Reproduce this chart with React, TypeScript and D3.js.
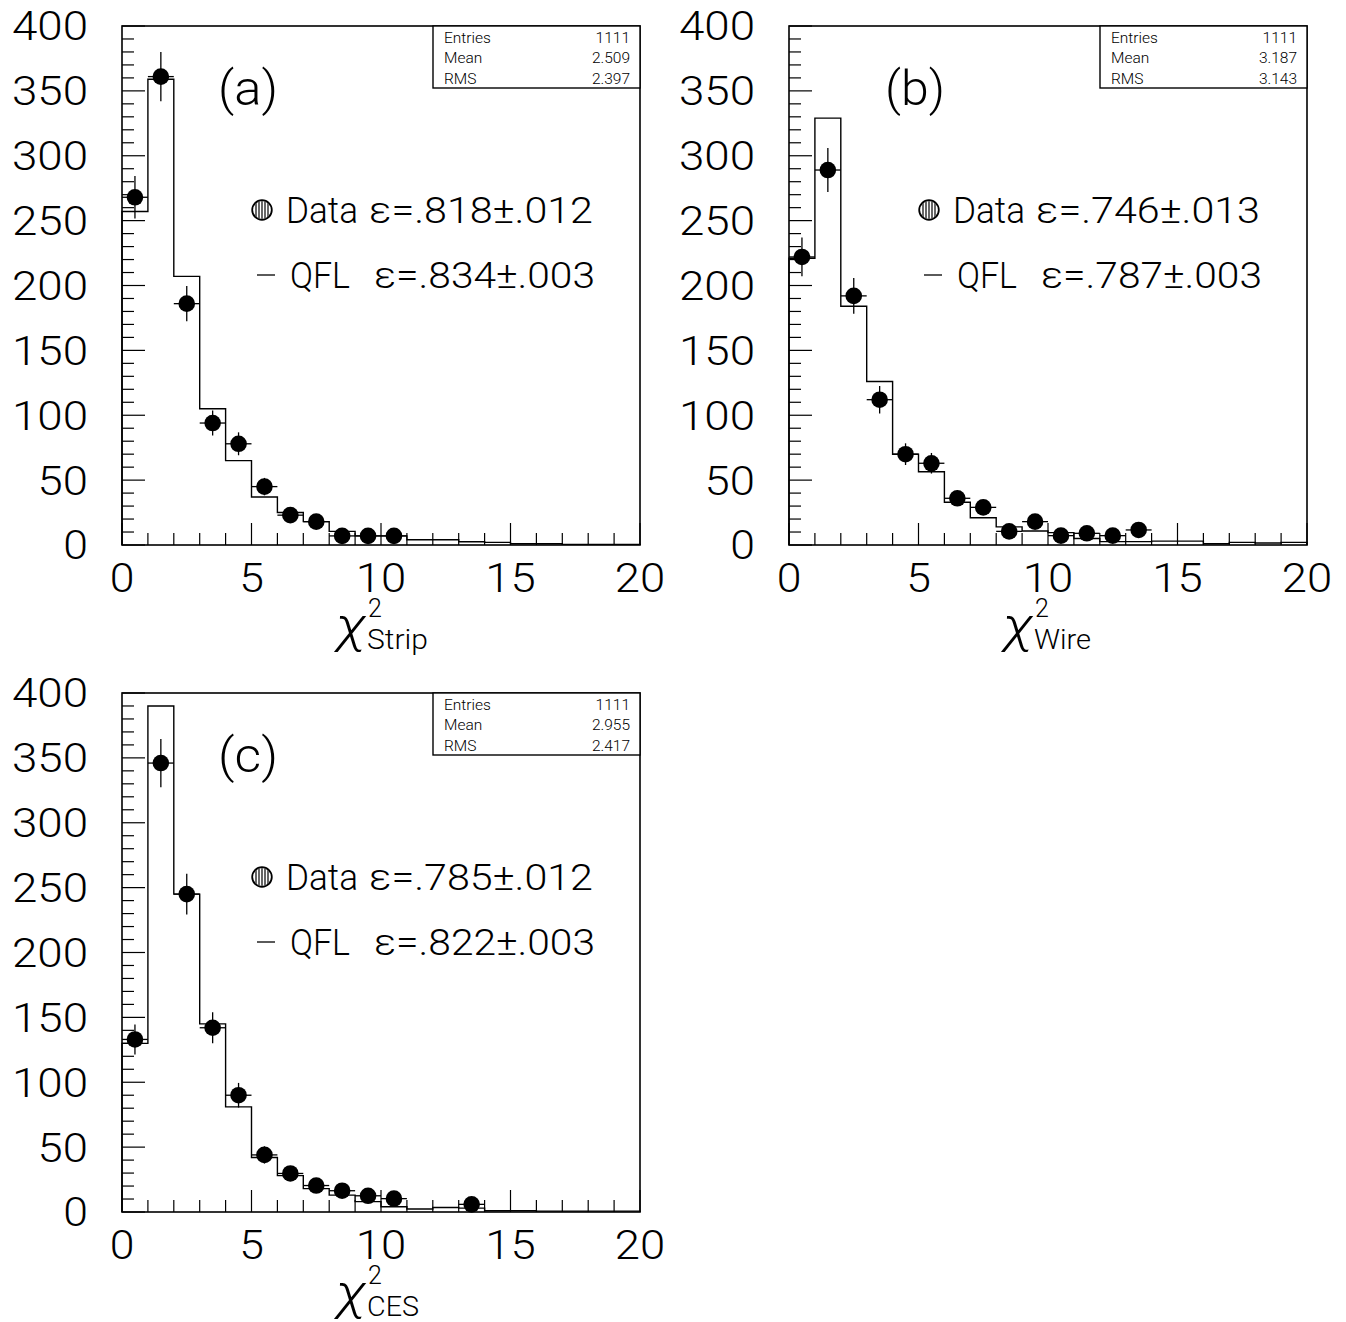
import React from 'react';
import * as d3 from 'd3';

// bin contents, 20 bins of width 1 from 0 to 20
const binLow = d3.range(0, 20);

const stripData = [268, 361, 186, 94, 78, 45, 23, 18, 7, 7, 7, 0, 0, 0, 0, 0, 0, 0, 0, 0];
const stripQfl = [257, 359, 207, 105, 65, 37, 25, 18, 10.5, 7, 7, 4, 4, 2.5, 2, 1, 1, 0.5, 0.5, 0.5];

const wireData = [222, 289, 192, 112, 70, 63, 36, 29, 10.5, 18, 7.2, 9, 7.2, 11.6, 0, 0, 0, 0, 0, 0];
const wireQfl = [221, 329, 184, 126, 70, 56.5, 33, 21, 14, 10.8, 9.5, 5, 2.6, 2.6, 3, 3, 1, 2, 1.5, 2];

const cesData = [133, 346, 245, 142, 90, 44, 29.7, 20.4, 16.4, 12.5, 10.3, 0, 0, 5.9, 0, 0, 0, 0, 0, 0];
const cesQfl = [130, 390, 245, 145, 81, 42, 28, 18, 13, 8, 4, 2.3, 3.5, 3, 1, 1, 0.7, 0.7, 0.7, 0.7];

const yTicks = [0, 50, 100, 150, 200, 250, 300, 350, 400];
const xTicks = [0, 5, 10, 15, 20];

const W = 518;
const H = 519;
const FONT = "Roboto, 'DejaVu Sans', sans-serif";

// stretch thin glyphs to the wide look of the original lettering
const numLen = (s: string) => 25.7 * s.length - 1;

const Panel = ({ id, left, top, tag, sub, subLen, data, qfl, stats, effData, effQfl }) => {
  const x = d3.scaleLinear().domain([0, 20]).range([0, W]);
  const y = d3.scaleLinear().domain([0, 400]).range([H, 0]);

  const pts = [[0, 0], ...binLow.map((b, i) => [b, qfl[i]]), [20, qfl[19]], [20, 0]];
  const histPath = d3
    .line()
    .x(d => x(d[0]))
    .y(d => y(d[1]))
    .curve(d3.curveStepAfter)(pts);

  const minorY = d3.range(0, 401, 10);
  const minorX = d3.range(0, 21, 1);

  return (
    <g transform={`translate(${left},${top})`} fontFamily={FONT} fontWeight={300}>
      {/* ticks */}
      {minorY.map(v => (
        <line key={'yt' + v} x1={0} x2={v % 50 === 0 ? 23 : 12} y1={y(v)} y2={y(v)} stroke="#000" strokeWidth={1.2} />
      ))}
      {minorX.map(v => (
        <line key={'xt' + v} y1={H} y2={H - (v % 5 === 0 ? 22 : 12)} x1={x(v)} x2={x(v)} stroke="#000" strokeWidth={1.2} />
      ))}
      {yTicks.map(v => (
        <text key={'yl' + v} x={-34} y={y(v)} dy="0.36em" textAnchor="end" fontSize={40}
          textLength={numLen(String(v))} lengthAdjust="spacingAndGlyphs">
          {v}
        </text>
      ))}
      {xTicks.map(v => (
        <text key={'xl' + v} x={x(v)} y={H + 47} textAnchor="middle" fontSize={40}
          textLength={numLen(String(v))} lengthAdjust="spacingAndGlyphs">
          {v}
        </text>
      ))}

      {/* QFL histogram */}
      <path d={histPath} fill="none" stroke="#000" strokeWidth={1.4} />

      {/* data points */}
      {binLow.map((b, i) => {
        const v = data[i];
        if (!v) return null;
        const e = Math.sqrt(v);
        return (
          <g key={'d' + i}>
            <line x1={x(b)} x2={x(b + 1)} y1={y(v)} y2={y(v)} stroke="#000" strokeWidth={1.3} />
            <line x1={x(b + 0.5)} x2={x(b + 0.5)} y1={y(v - e)} y2={y(v + e)} stroke="#000" strokeWidth={1.3} />
            <circle cx={x(b + 0.5)} cy={y(v)} r={8.3} fill="#000" />
          </g>
        );
      })}

      {/* frame */}
      <rect x={0} y={0} width={W} height={H} fill="none" stroke="#000" strokeWidth={1.6} />

      {/* stats box */}
      <g>
        <rect x={311} y={0} width={W - 311} height={62} fill="#fff" stroke="#000" strokeWidth={1.4} />
        {['Entries', 'Mean', 'RMS'].map((s, i) => (
          <g key={s}>
            <text x={322} y={16.5 + i * 20.5} fontSize={15.5}>{s}</text>
            <text x={W - 10} y={16.5 + i * 20.5} fontSize={15.5} textAnchor="end">{stats[i]}</text>
          </g>
        ))}
      </g>

      {/* panel tag */}
      <text x={126} y={62} dy="0.36em" textAnchor="middle" fontSize={48}
        textLength={60} lengthAdjust="spacingAndGlyphs">{tag}</text>

      {/* legend */}
      <defs>
        <clipPath id={'mk' + id}>
          <circle cx={140} cy={184} r={9} />
        </clipPath>
      </defs>
      <g clipPath={`url(#mk${id})`}>
        {[-6, -3, 0, 3, 6].map(o => (
          <line key={o} x1={140 + o} x2={140 + o} y1={172} y2={196} stroke="#000" strokeWidth={1.2} />
        ))}
      </g>
      <circle cx={140} cy={184} r={9.8} fill="none" stroke="#000" strokeWidth={1.8} />
      <text x={164} y={184} dy="0.36em" fontSize={36} textLength={72} lengthAdjust="spacingAndGlyphs">Data</text>
      <text x={471} y={184} dy="0.36em" fontSize={36} textAnchor="end"
        textLength={224} lengthAdjust="spacingAndGlyphs">{effData}</text>
      <line x1={135} x2={153} y1={249} y2={249} stroke="#000" strokeWidth={1.3} />
      <text x={168} y={249} dy="0.36em" fontSize={36} textLength={60} lengthAdjust="spacingAndGlyphs">QFL</text>
      <text x={473} y={249} dy="0.36em" fontSize={36} textAnchor="end"
        textLength={221} lengthAdjust="spacingAndGlyphs">{effQfl}</text>

      {/* x title */}
      <text x={214} y={H + 97} fontSize={50} fontStyle="italic"
        textLength={30} lengthAdjust="spacingAndGlyphs">χ</text>
      <text x={246} y={H + 72} fontSize={25}>2</text>
      <text x={245} y={H + 104} fontSize={28} textLength={subLen} lengthAdjust="spacingAndGlyphs">{sub}</text>
    </g>
  );
};

export default function App() {
  return (
    <svg
      width={1346}
      height={1322}
      style={{ position: 'absolute', left: 0, top: 0, background: '#fff' }}
    >
      <rect width={1346} height={1322} fill="#fff" />
      <Panel id="a" left={122} top={26} tag="(a)" sub="Strip" subLen={61} data={stripData} qfl={stripQfl}
        stats={['1111', '2.509', '2.397']} effData="ε=.818±.012" effQfl="ε=.834±.003" />
      <Panel id="b" left={789} top={26} tag="(b)" sub="Wire" subLen={57} data={wireData} qfl={wireQfl}
        stats={['1111', '3.187', '3.143']} effData="ε=.746±.013" effQfl="ε=.787±.003" />
      <Panel id="c" left={122} top={693} tag="(c)" sub="CES" subLen={52} data={cesData} qfl={cesQfl}
        stats={['1111', '2.955', '2.417']} effData="ε=.785±.012" effQfl="ε=.822±.003" />
    </svg>
  );
}
